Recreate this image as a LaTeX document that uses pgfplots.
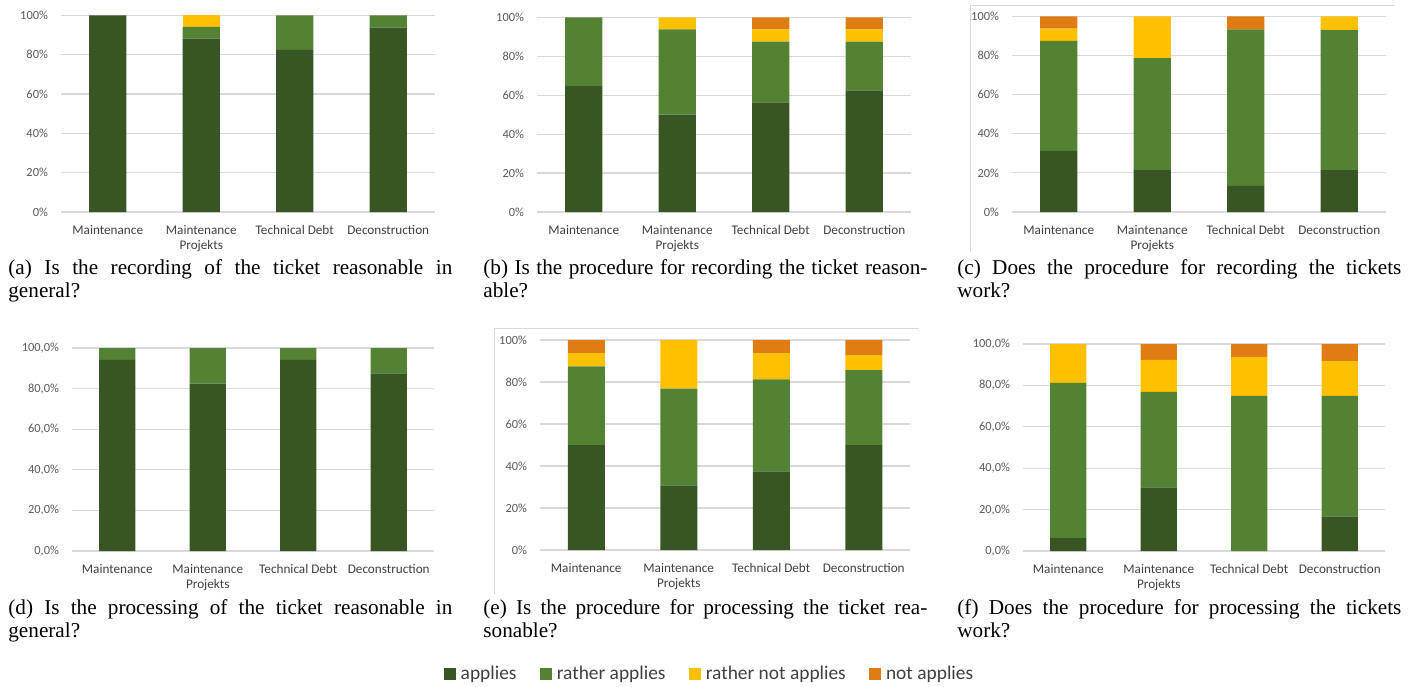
\documentclass[border=0pt]{standalone}
\usepackage{pgfplots}
\pgfplotsset{compat=1.18}
\usepackage{fontspec}
\setmainfont{Liberation Serif}
\newfontfamily\calibri{Carlito}
\definecolor{cApp}{HTML}{375623}
\definecolor{cRApp}{HTML}{548235}
\definecolor{cRNot}{HTML}{FFC000}
\definecolor{cNot}{HTML}{E07C14}
\definecolor{gridgray}{HTML}{D9D9D9}
\definecolor{tickgray}{HTML}{595959}
\definecolor{labgray}{HTML}{404040}
\newcommand\catfont{\calibri\fontsize{6.6pt}{7.6pt}\selectfont}
\newcommand\tickfont{\calibri\fontsize{6.2pt}{7pt}\selectfont}
\newcommand\capfont{\fontsize{10.6pt}{11.5pt}\selectfont}
\pgfplotsset{
  panel/.style={
    scale only axis, ybar stacked, bar width=0.4,
    xmin=-0.5, xmax=3.5, ymin=0, ymax=100,
    axis line style={draw=none}, tick style={draw=none},
    ymajorgrids, major grid style={draw=gridgray, line width=0.6pt},
    ytick={0,20,40,60,80,100},
    yticklabels={0\%,20\%,40\%,60\%,80\%,100\%},
    xtick={0,1,2,3},
    xticklabels={Maintenance,{Maintenance\\Projekts},Technical Debt,Deconstruction},
    xticklabel style={align=center, font=\catfont, text=labgray, yshift=-3pt},
    yticklabel style={font=\tickfont, text=tickgray, xshift=-3pt},
    every axis plot/.append style={draw=none},
    area legend,
  },
  commaticks/.style={yticklabels={{0,0\%},{20,0\%},{40,0\%},{60,0\%},{80,0\%},{100,0\%}}},
}
\begin{document}
\begin{tikzpicture}
\useasboundingbox (0,0) rectangle (711.5pt,-343pt);
% frames
\draw[gridgray, line width=0.5pt] (485pt,-126pt) -- (485pt,-2.67pt) -- (697.5pt,-2.67pt);
\draw[gridgray, line width=0.5pt] (247.3pt,-297.5pt) -- (247.3pt,-164pt) -- (459.5pt,-164pt);
% (a)
\begin{axis}[panel, at={(30.5pt,-106pt)}, anchor=south west, width=187pt, height=98.35pt]
\addplot[fill=cApp] coordinates {(0,100) (1,88.2) (2,82.4) (3,93.75)};
\addplot[fill=cRApp] coordinates {(0,0) (1,5.9) (2,17.6) (3,6.25)};
\addplot[fill=cRNot] coordinates {(0,0) (1,5.9) (2,0) (3,0)};
\addplot[fill=cNot] coordinates {(0,0) (1,0) (2,0) (3,0)};
\end{axis}
% (b)
\begin{axis}[panel, at={(268.5pt,-106pt)}, anchor=south west, width=187pt, height=97.35pt]
\addplot[fill=cApp] coordinates {(0,64.7) (1,50) (2,56.25) (3,62.5)};
\addplot[fill=cRApp] coordinates {(0,35.3) (1,43.75) (2,31.25) (3,25)};
\addplot[fill=cRNot] coordinates {(0,0) (1,6.25) (2,6.25) (3,6.25)};
\addplot[fill=cNot] coordinates {(0,0) (1,0) (2,6.25) (3,6.25)};
\end{axis}
% (c)
\begin{axis}[panel, at={(506pt,-106pt)}, anchor=south west, width=187pt, height=97.85pt]
\addplot[fill=cApp] coordinates {(0,31.25) (1,21.4) (2,13.3) (3,21.4)};
\addplot[fill=cRApp] coordinates {(0,56.25) (1,57.2) (2,80) (3,71.5)};
\addplot[fill=cRNot] coordinates {(0,6.25) (1,21.4) (2,0) (3,7.1)};
\addplot[fill=cNot] coordinates {(0,6.25) (1,0) (2,6.7) (3,0)};
\end{axis}
% (d)
\begin{axis}[panel, commaticks, at={(36pt,-275.5pt)}, anchor=south west, width=181pt, height=101.5pt]
\addplot[fill=cApp] coordinates {(0,94.1) (1,82.4) (2,94.1) (3,87.5)};
\addplot[fill=cRApp] coordinates {(0,5.9) (1,17.6) (2,5.9) (3,12.5)};
\addplot[fill=cRNot] coordinates {(0,0) (1,0) (2,0) (3,0)};
\addplot[fill=cNot] coordinates {(0,0) (1,0) (2,0) (3,0)};
\end{axis}
% (e)
\begin{axis}[panel, at={(270pt,-275pt)}, anchor=south west, width=185pt, height=105pt,
  legend columns=4,
  legend style={at={(0.458,-0.59)}, anchor=center, draw=none, fill=none,
    font=\calibri\fontsize{9.7pt}{11pt}\selectfont, text=labgray,
    /tikz/every even column/.append style={column sep=11pt},
    nodes={inner sep=0.8pt}},
  legend image code/.code={\fill[#1] (0pt,-3pt) rectangle (6pt,3pt); \path (0pt,0pt) -- (7.5pt,0pt);}]
\addplot[fill=cApp] coordinates {(0,50) (1,30.8) (2,37.5) (3,50)};
\addplot[fill=cRApp] coordinates {(0,37.5) (1,46.1) (2,43.75) (3,35.7)};
\addplot[fill=cRNot] coordinates {(0,6.25) (1,23.1) (2,12.5) (3,7.1)};
\addplot[fill=cNot] coordinates {(0,6.25) (1,0) (2,6.25) (3,7.2)};
\legend{applies, rather applies, rather not applies, not applies}
\end{axis}
% (f)
\begin{axis}[panel, commaticks, at={(511.5pt,-275.5pt)}, anchor=south west, width=181pt, height=103.5pt]
\addplot[fill=cApp] coordinates {(0,6.25) (1,30.8) (2,0) (3,16.7)};
\addplot[fill=cRApp] coordinates {(0,75) (1,46.1) (2,75) (3,58.3)};
\addplot[fill=cRNot] coordinates {(0,18.75) (1,15.4) (2,18.75) (3,16.7)};
\addplot[fill=cNot] coordinates {(0,0) (1,7.7) (2,6.25) (3,8.3)};
\end{axis}
% captions
\begin{scope}[every node/.style={anchor=north west, inner sep=0pt, text width=222pt, align=justify, font=\capfont}]
\node at (4pt,-129.7pt) {(a) Is the recording of the ticket reasonable in\linebreak general?};
\node at (241.5pt,-129.7pt) {(b) Is the procedure for recording the ticket reason-\linebreak able?};
\node at (478.5pt,-129.7pt) {(c) Does the procedure for recording the tickets\linebreak work?};
\node at (4pt,-299.7pt) {(d) Is the processing of the ticket reasonable in\linebreak general?};
\node at (241.5pt,-299.7pt) {(e) Is the procedure for processing the ticket rea-\linebreak sonable?};
\node at (478.5pt,-299.7pt) {(f) Does the procedure for processing the tickets\linebreak work?};
\end{scope}
\end{tikzpicture}
\end{document}
